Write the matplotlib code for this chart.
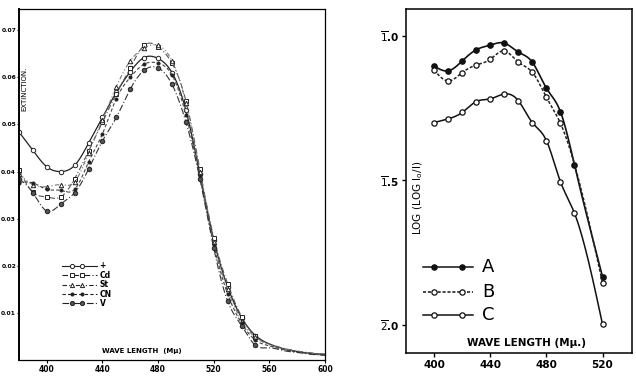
import numpy as np
import matplotlib
matplotlib.use("Agg")
import matplotlib.pyplot as plt

# ---------------- data: left panel (extinction) ----------------
wl_left = [380, 390, 400, 410, 420, 430, 440, 450, 460, 470, 480, 490, 500,
           510, 520, 530, 540, 550, 560, 570, 580, 590, 600]
ext_plus = [0.0484, 0.0445, 0.0410, 0.0400, 0.0413, 0.0460, 0.0515, 0.0568, 0.0612, 0.0642, 0.0640, 0.0610, 0.0530,
            0.0395, 0.0255, 0.0155, 0.0090, 0.0052, 0.0034, 0.0024, 0.0018, 0.0014, 0.0012]
ext_cd = [0.0404, 0.0356, 0.0346, 0.0346, 0.0385, 0.0443, 0.0505, 0.0565, 0.0620, 0.0668, 0.0665, 0.0630, 0.0550,
          0.0405, 0.0260, 0.0162, 0.0092, 0.0050, 0.0034, 0.0025, 0.0019, 0.0015, 0.0012]
ext_st = [0.0395, 0.0372, 0.0368, 0.0372, 0.0378, 0.0440, 0.0510, 0.0580, 0.0635, 0.0662, 0.0668, 0.0635, 0.0545,
          0.0400, 0.0250, 0.0150, 0.0083, 0.0048, 0.0032, 0.0024, 0.0018, 0.0014, 0.0011]
ext_cn = [0.0376, 0.0376, 0.0362, 0.0360, 0.0362, 0.0420, 0.0480, 0.0555, 0.0600, 0.0628, 0.0630, 0.0605, 0.0520,
          0.0390, 0.0245, 0.0140, 0.0078, 0.0042, 0.0030, 0.0022, 0.0017, 0.0013, 0.0010]
ext_v = [0.0385, 0.0355, 0.0316, 0.0331, 0.0355, 0.0405, 0.0465, 0.0515, 0.0575, 0.0615, 0.0620, 0.0585, 0.0505,
         0.0385, 0.0238, 0.0125, 0.0073, 0.0031, 0.0026, 0.0020, 0.0016, 0.0012, 0.0010]
left_labels = ["+", "Cd", "St", "CN", "V"]
left_xticks = [400, 440, 480, 520, 560, 600]
left_yticks = [0.01, 0.02, 0.03, 0.04, 0.05, 0.06, 0.07]

# ---------------- data: right panel (log log I0/I) ----------------
wl_a = [400, 410, 420, 430, 440, 450, 460, 470, 480, 490, 500, 520]
log_a = [1.104, 1.121, 1.087, 1.048, 1.032, 1.025, 1.056, 1.091, 1.181, 1.262, 1.446, 1.833]
wl_b = [400, 410, 420, 430, 440, 450, 460, 470, 480, 490, 520]
log_b = [1.118, 1.156, 1.127, 1.101, 1.081, 1.052, 1.091, 1.126, 1.212, 1.302, 1.854]
wl_c = [400, 410, 420, 430, 440, 450, 460, 470, 480, 490, 500, 520]
log_c = [1.300, 1.287, 1.265, 1.227, 1.218, 1.201, 1.224, 1.300, 1.362, 1.504, 1.613, 1.998]
right_labels = ["A", "B", "C"]
right_xticks = [400, 440, 480, 520]
right_yticks = [1.0, 1.5, 2.0]
right_yticklabels = [r"$\overline{1}$.0", r"$\overline{1}$.5", r"$\overline{2}$.0"]


def smooth(x, y, n=300):
    """Natural cubic spline through the points, for drawing the curve."""
    x = np.asarray(x, float)
    y = np.asarray(y, float)
    m = len(x)
    h = np.diff(x)
    A = np.zeros((m, m))
    r = np.zeros(m)
    A[0, 0] = A[-1, -1] = 1
    for i in range(1, m - 1):
        A[i, i - 1] = h[i - 1]
        A[i, i] = 2 * (h[i - 1] + h[i])
        A[i, i + 1] = h[i]
        r[i] = 6 * ((y[i + 1] - y[i]) / h[i] - (y[i] - y[i - 1]) / h[i - 1])
    M = np.linalg.solve(A, r)
    xs = np.linspace(x[0], x[-1], n)
    idx = np.clip(np.searchsorted(x, xs) - 1, 0, m - 2)
    x0, x1 = x[idx], x[idx + 1]
    hh = x1 - x0
    t0 = x1 - xs
    t1 = xs - x0
    ys = (M[idx] * t0 ** 3 + M[idx + 1] * t1 ** 3) / (6 * hh) \
        + (y[idx] / hh - M[idx] * hh / 6) * t0 + (y[idx + 1] / hh - M[idx + 1] * hh / 6) * t1
    return xs, ys


fig = plt.figure(figsize=(6.36, 3.76), dpi=100)
fig.patch.set_facecolor("white")

# ---------------- left panel ----------------
axL = fig.add_axes([19 / 636, 1 - 360 / 376, (325 - 19) / 636, (360 - 9) / 376])
styles = [
    dict(marker="o", mfc="white", ls="-", color="#222222", lw=0.9),
    dict(marker="s", mfc="white", ls=(0, (5, 2, 1, 2)), color="#555555", lw=0.8),
    dict(marker="^", mfc="white", ls=(0, (4, 2, 1, 2, 1, 2)), color="#777777", lw=0.8),
    dict(marker="o", mfc="#222222", ls=(0, (3, 2)), color="#444444", lw=0.8, ms=2.2),
    dict(marker="o", mfc="#555555", ls=(0, (6, 2, 1, 2)), color="#333333", lw=0.8),
]
series = [ext_plus, ext_cd, ext_st, ext_cn, ext_v]
nmark = wl_left.index(550) + 1
for vals, st, lab in zip(series, styles, left_labels):
    xs, ys = smooth(wl_left, vals)
    axL.plot(xs, ys, ls=st["ls"], color=st["color"], lw=st["lw"])
    axL.plot(wl_left[:nmark], vals[:nmark], ls="none", marker=st["marker"],
             mfc=st["mfc"], mec="#222222", ms=st.get("ms", 3.2), mew=0.7)

# legend (hand-drawn style)
leg_y = [0.0200, 0.0180, 0.0160, 0.0140, 0.0120]
for vals, st, lab, yy in zip(series, styles, left_labels, leg_y):
    axL.plot([411, 436], [yy, yy], ls=st["ls"], color="#222222", lw=0.8)
    axL.plot([418, 425], [yy, yy], ls="none", marker=st["marker"], mfc=st["mfc"],
             mec="#222222", ms=st.get("ms", 3.0), mew=0.7)
    axL.text(438, yy, lab, fontsize=5.5, fontweight="bold", va="center", ha="left")

axL.set_xlim(380, 600)
axL.set_ylim(0, 0.0745)
axL.set_xticks(left_xticks)
axL.set_xticklabels([str(v) for v in left_xticks], fontsize=5.5, fontweight="bold")
axL.set_yticks(left_yticks)
axL.set_yticklabels([f"{v:.2f}" for v in left_yticks], fontsize=4.3, fontweight="bold")
axL.tick_params(axis="y", direction="out", length=1.5, width=0.8, pad=0.6)
axL.tick_params(axis="x", direction="out", length=2, width=0.8, pad=1.5)
for s in axL.spines.values():
    s.set_linewidth(0.9)
axL.spines["left"].set_linewidth(1.4)
axL.text(468, 0.0012, "WAVE LENGTH  (Mμ)", fontsize=5, fontweight="bold", ha="center", va="bottom")
axL.text(384, 0.0575, "EXTINCTION.", fontsize=5, rotation=90, ha="center", va="center")

# ---------------- right panel ----------------
axR = fig.add_axes([406 / 636, 1 - 353 / 376, (632 - 406) / 636, (353 - 9) / 376])
xa, ya = smooth(wl_a, log_a)
xb, yb = smooth(wl_b, log_b)
xc, yc = smooth(wl_c, log_c)
axR.plot(xa, ya, ls="-", color="#111111", lw=1.2)
axR.plot(wl_a, log_a, ls="none", marker="o", mfc="#111111", mec="#111111", ms=3.8)
axR.plot(xb, yb, ls=(0, (2, 1.2)), color="#222222", lw=1.1)
axR.plot(wl_b, log_b, ls="none", marker="o", mfc="white", mec="#111111", ms=3.8, mew=0.9)
axR.plot(xc, yc, ls="-", color="#111111", lw=1.1)
axR.plot(wl_c, log_c, ls="none", marker="o", mfc="white", mec="#111111", ms=3.8, mew=0.9)

# legend
leg_specs = [("-", "#111111", 1.80), ((0, (2, 1.2)), "white", 1.885), ("-", "white", 1.965)]
for (ls, mfc, yy), lab in zip(leg_specs, right_labels):
    axR.plot([392, 428], [yy, yy], ls=ls, color="#111111", lw=1.1)
    axR.plot([400, 420], [yy, yy], ls="none", marker="o", mfc=mfc, mec="#111111", ms=3.8, mew=0.9)
    axR.text(434, yy, lab, fontsize=13, ha="left", va="center")

axR.set_xlim(380, 541)
axR.set_ylim(2.097, 0.907)
axR.set_xticks(right_xticks)
axR.set_xticklabels([str(v) for v in right_xticks], fontsize=7.5, fontweight="bold")
axR.set_yticks(right_yticks)
axR.set_yticklabels(right_yticklabels, fontsize=7.5, fontweight="bold")
axR.tick_params(axis="both", direction="out", length=3, width=1.0, pad=2)
for s in axR.spines.values():
    s.set_linewidth(1.1)
axR.text(466, 2.062, "WAVE LENGTH (Mμ.)", fontsize=7.5, fontweight="bold", ha="center", va="center")
axR.text(389, 1.56, r"LOG (LOG I$_{\mathrm{o}}$/I)", fontsize=7.5, rotation=90, ha="center", va="center")

fig.savefig("out.png", dpi=100, facecolor="white")
